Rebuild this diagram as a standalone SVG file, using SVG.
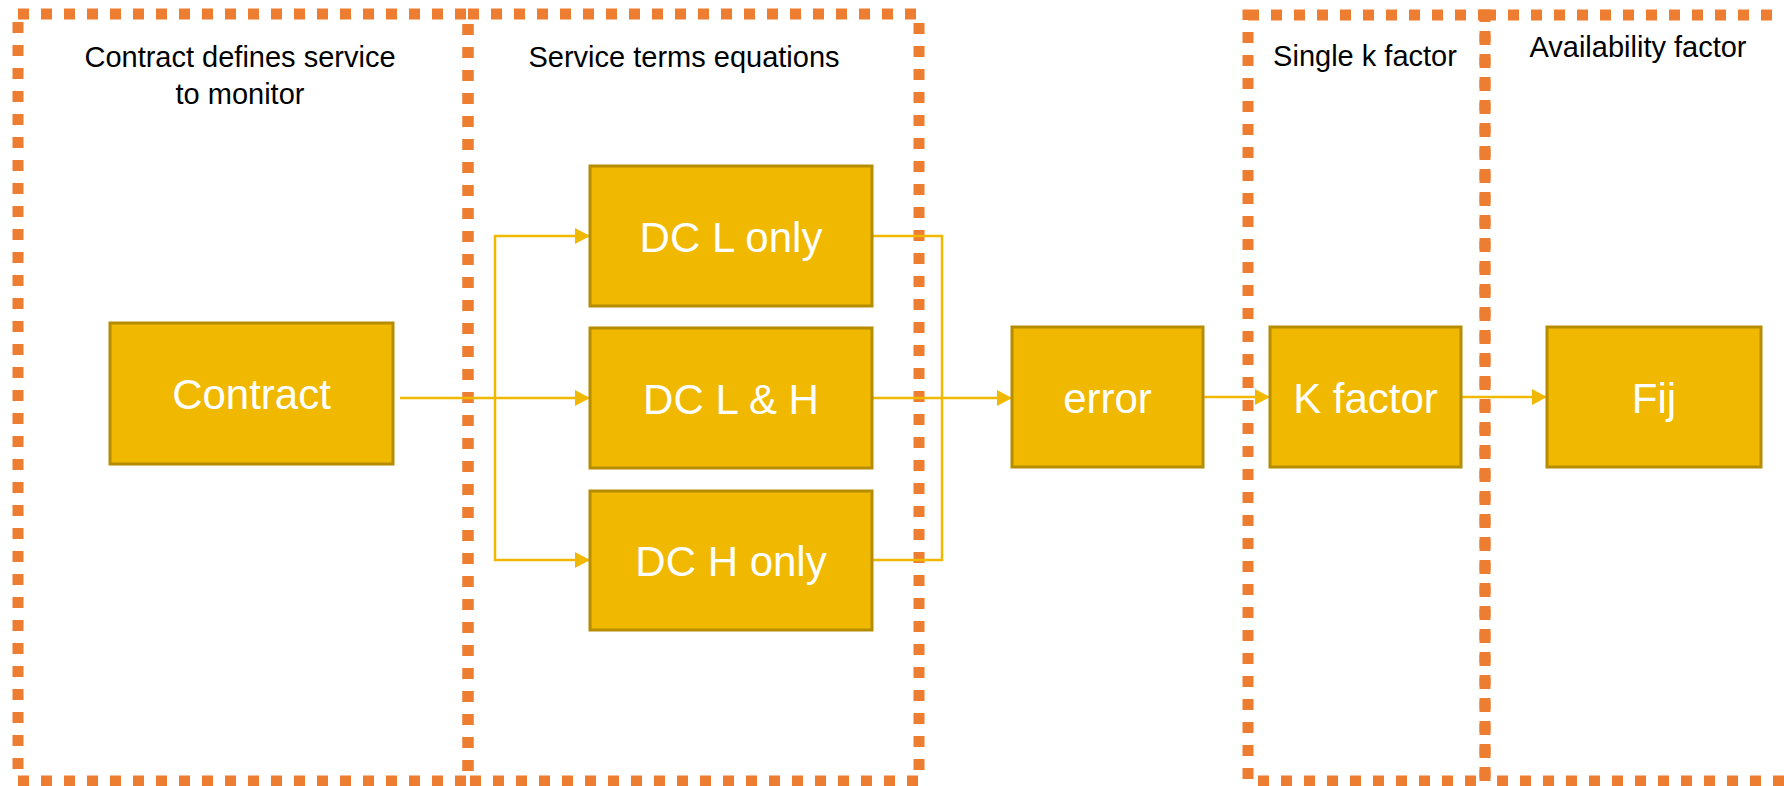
<svg xmlns="http://www.w3.org/2000/svg" width="1784" height="786" viewBox="0 0 1784 786">
  <style>
    .frame { fill: none; stroke: #ED7D31; stroke-width: 11; stroke-dasharray: 11 12; }
    .box { fill: #F0B900; stroke: #B68C00; stroke-width: 3; }
    .label { font-family: "Liberation Sans", Arial, sans-serif; font-size: 42px; fill: #FFFFFF; text-anchor: middle; }
    .head { font-family: "Liberation Sans", Arial, sans-serif; font-size: 29px; fill: #000000; text-anchor: middle; }
    .wire { fill: none; stroke: #F0B900; stroke-width: 2.5; }
  </style>
  <defs>
    <marker id="tip" markerUnits="userSpaceOnUse" markerWidth="16" markerHeight="17" refX="15" refY="8" orient="auto">
      <path d="M0,0 L15,8 L0,16 z" fill="#F0B900"/>
    </marker>
  </defs>

  <rect width="1784" height="786" fill="#FFFFFF"/>

  <!-- stage frames -->
  <g id="frames">
    <rect class="frame" x="18" y="14" width="450" height="767"/>
    <rect class="frame" x="468" y="14" width="451" height="767"/>
    <rect class="frame" x="1248" y="15" width="237" height="766"/>
    <rect class="frame" x="1485" y="15" width="330" height="766"/>
  </g>

  <!-- stage headings -->
  <g id="headings">
    <text class="head" x="240" y="67">Contract defines service</text>
    <text class="head" x="240" y="104">to monitor</text>
    <text class="head" x="684" y="67">Service terms equations</text>
    <text class="head" x="1365" y="66">Single k factor</text>
    <text class="head" x="1638" y="57">Availability factor</text>
  </g>

  <!-- connectors -->
  <g id="connectors">
    <path class="wire" d="M400,398 H590" marker-end="url(#tip)"/>
    <path class="wire" d="M495,398 V236 H590" marker-end="url(#tip)"/>
    <path class="wire" d="M495,398 V560 H590" marker-end="url(#tip)"/>
    <path class="wire" d="M872,236 H942 V560 H872"/>
    <path class="wire" d="M872,398 H1012" marker-end="url(#tip)"/>
    <path class="wire" d="M1203,397 H1270" marker-end="url(#tip)"/>
    <path class="wire" d="M1461,397 H1547" marker-end="url(#tip)"/>
  </g>

  <!-- nodes -->
  <g id="contract">
    <rect class="box" x="110" y="323" width="283" height="141"/>
    <text class="label" x="251.5" y="409">Contract</text>
  </g>
  <g id="dc-l-only">
    <rect class="box" x="590" y="166" width="282" height="140"/>
    <text class="label" x="731" y="252">DC L only</text>
  </g>
  <g id="dc-l-and-h">
    <rect class="box" x="590" y="328" width="282" height="140"/>
    <text class="label" x="731" y="414">DC L &amp; H</text>
  </g>
  <g id="dc-h-only">
    <rect class="box" x="590" y="491" width="282" height="139"/>
    <text class="label" x="731" y="576">DC H only</text>
  </g>
  <g id="error">
    <rect class="box" x="1012" y="327" width="191" height="140"/>
    <text class="label" x="1107.5" y="413">error</text>
  </g>
  <g id="k-factor">
    <rect class="box" x="1270" y="327" width="191" height="140"/>
    <text class="label" x="1365.5" y="413">K factor</text>
  </g>
  <g id="fij">
    <rect class="box" x="1547" y="327" width="214" height="140"/>
    <text class="label" x="1654" y="413">Fij</text>
  </g>
</svg>
